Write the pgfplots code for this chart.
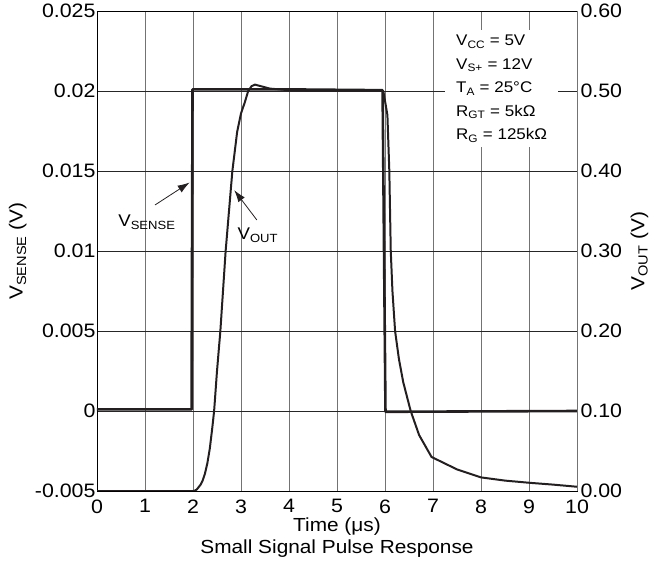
\documentclass[border=0pt]{standalone}
\usepackage{pgfplots}
\pgfplotsset{compat=1.18}
\usepackage{fontspec}
\setmainfont{Liberation Sans}[FakeStretch=1.1]
\usetikzlibrary{arrows.meta}
\definecolor{curve}{HTML}{231F20}
\newcommand{\sub}[1]{\textsubscript{#1}}
\begin{document}
\begin{tikzpicture}
\begin{axis}[name=main, width=480bp, height=480bp, scale only axis,
  clip=false,
  xmin=0, xmax=10, ymin=-0.005, ymax=0.025,
  xtick={0,1,2,3,4,5,6,7,8,9,10},
  xticklabels={0,1,2,3,4,5,6,7,8,9,10},
  ytick={-0.005,0,0.005,0.01,0.015,0.02,0.025},
  yticklabels={-0.005,0,0.005,0.01,0.015,0.02,0.025},
  scaled y ticks=false,
  /pgf/number format/assume math mode=true,
  major tick length=0pt,
  grid=major,
  x grid style={black!55, line width=0.8pt},
  y grid style={black!85, line width=0.6pt},
  axis line style={black, line width=0.8pt},
  tick label style={font=\fontsize{19.5}{22}\selectfont},
  yticklabel style={xshift=2bp},
  xticklabel style={yshift=-5bp},
  xlabel={Time (μs)},
  xlabel style={font=\fontsize{19}{22}\selectfont, at={(axis description cs:0.5,-0.075)}, anchor=center},
  ylabel={V\sub{SENSE} (V)},
  ylabel style={font=\fontsize{19}{22}\selectfont, at={(axis description cs:-0.165,0.5)}, anchor=center},
]
\addplot[curve, line width=2.6pt, line join=round] coordinates {
  (0,0.0001) (1.97,0.0001) (1.99,0.0201) (4,0.0201) (5.95,0.02005) (6.01,-0.00005) (10,0.0)
};
\draw[curve, line width=0.8pt, -{Latex[length=12bp,width=8bp]}] (axis cs:1.21,0.01288) -- (axis cs:1.93,0.01428);
\draw[curve, line width=0.8pt, -{Latex[length=12bp,width=8bp]}] (axis cs:3.33,0.01194) -- (axis cs:2.86,0.01380);
\node[font=\fontsize{17}{20}\selectfont] at (axis cs:1.04,0.01181) {V\sub{SENSE}};
\node[font=\fontsize{17}{20}\selectfont] at (axis cs:3.35,0.0110) {V\sub{OUT}};
\node[anchor=north west, fill=white, inner xsep=11bp, inner ysep=5bp, align=left,
      font=\fontsize{15.5}{23.5}\selectfont] at (axis cs:7.25,0.02381)
  {V\sub{CC} = 5V\\V\sub{S+} = 12V\\T\sub{A} = 25°C\\R\sub{GT} = 5kΩ\\R\sub{G} = 125kΩ};
\node[font=\fontsize{19}{22}\selectfont] at (axis description cs:0.5,-0.121) {Small Signal Pulse Response};
\end{axis}
\begin{axis}[width=480bp, height=480bp, scale only axis,
  xmin=0, xmax=10, ymin=0, ymax=0.6,
  axis x line=none, axis y line*=right,
  ytick={0,0.1,0.2,0.3,0.4,0.5,0.6},
  yticklabels={0.00,0.10,0.20,0.30,0.40,0.50,0.60},
  /pgf/number format/assume math mode=true,
  major tick length=0pt,
  axis line style={black!55, line width=0.8pt},
  tick label style={font=\fontsize{19.5}{22}\selectfont},
  yticklabel style={xshift=0bp},
  ylabel={V\sub{OUT} (V)},
  ylabel style={font=\fontsize{19}{22}\selectfont, at={(axis description cs:1.13,0.5)}, anchor=center},
]
\addplot[curve, line width=2pt, line join=round] coordinates {
  (0,0) (2.0,0) (2.04,0.0005) (2.08,0.002) (2.12,0.005) (2.16,0.008) (2.20,0.013)
  (2.25,0.022) (2.30,0.035) (2.35,0.053) (2.40,0.078) (2.44,0.10) (2.50,0.15)
  (2.57,0.20) (2.68,0.30) (2.82,0.40) (2.92,0.449) (3.00,0.472) (3.08,0.486)
  (3.15,0.50) (3.22,0.506) (3.29,0.508) (3.6,0.503) (4.0,0.501) (4.5,0.500)
  (5.0,0.500) (5.5,0.500) (5.965,0.500) (6.05,0.47) (6.09,0.40) (6.12,0.30)
  (6.155,0.25) (6.21,0.20) (6.29,0.165) (6.38,0.136) (6.535,0.10) (6.71,0.07)
  (6.97,0.0425) (7.5,0.027) (8.0,0.017) (8.5,0.013) (9.0,0.0103) (9.5,0.008) (10,0.0053)
};
\end{axis}
\pgfresetboundingbox
\path[use as bounding box] ([shift={(-97bp,-74bp)}]main.south west) rectangle ([shift={(72bp,11bp)}]main.north east);
\end{tikzpicture}
\end{document}
